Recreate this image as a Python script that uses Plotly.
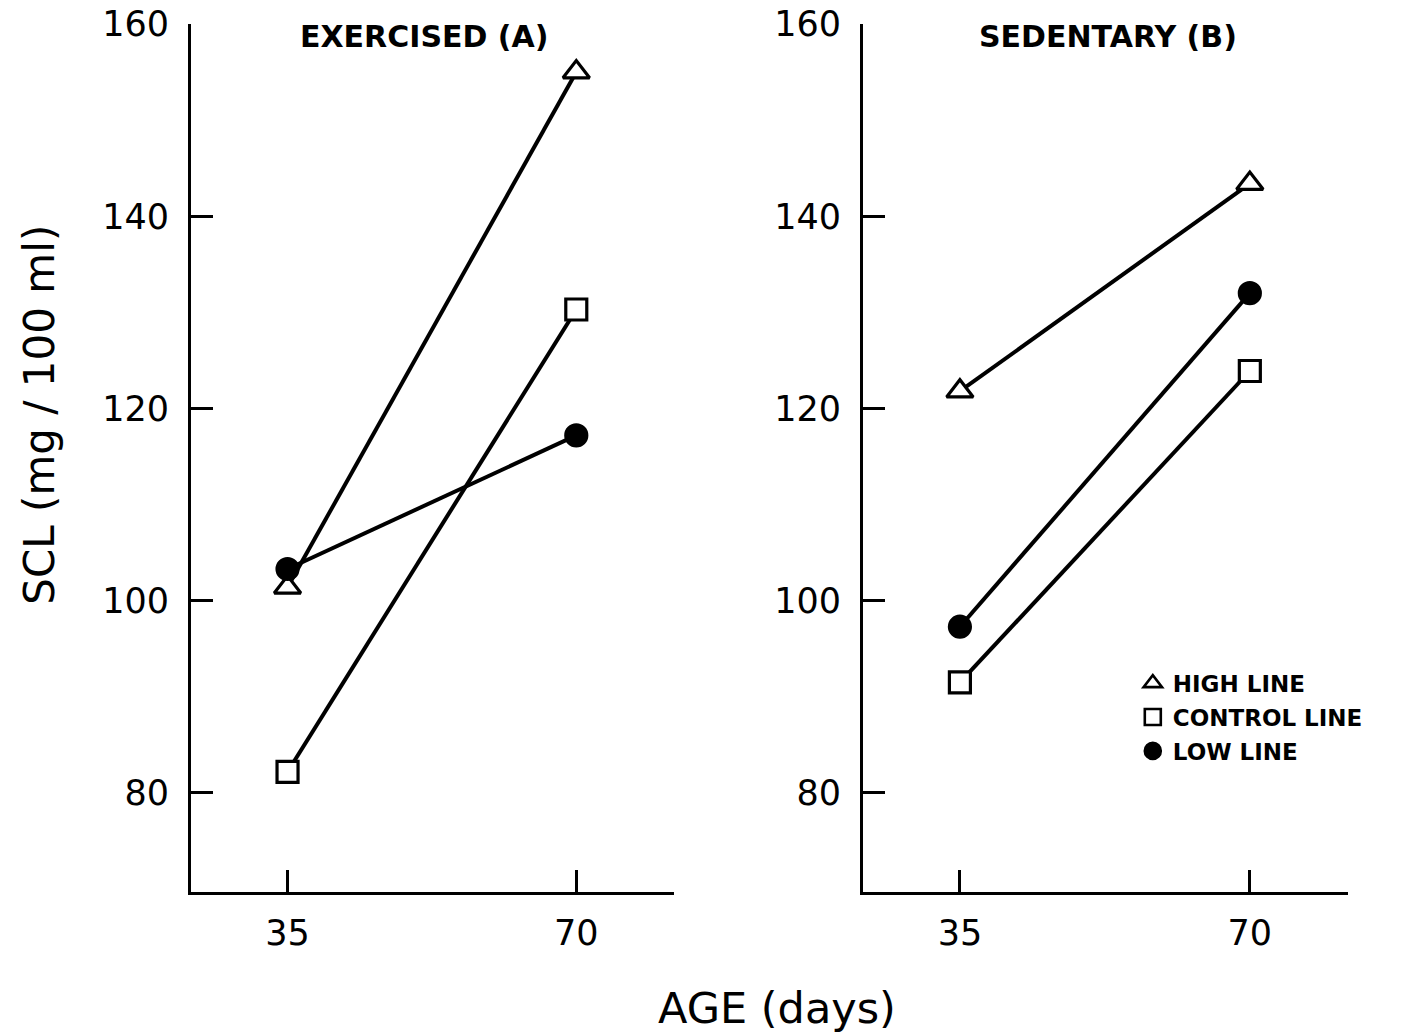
import plotly.graph_objects as go
from plotly.subplots import make_subplots

ages = [35, 70]
# Exercised (A)
ex_high = [101.4, 155.0]
ex_control = [82.2, 130.3]
ex_low = [103.3, 117.2]
# Sedentary (B)
sed_high = [121.8, 143.4]
sed_control = [91.5, 123.9]
sed_low = [97.3, 132.0]

panel_titles = ["EXERCISED (A)", "SEDENTARY (B)"]
series_names = ["HIGH LINE", "CONTROL LINE", "LOW LINE"]
y_ticks = [80, 100, 120, 140, 160]
x_ticks = [35, 70]

FONT = "DejaVu Sans"

fig = make_subplots(rows=1, cols=2, horizontal_spacing=0.163)

styles = {
    "HIGH LINE": dict(symbol="triangle-up", color="white", size=23),
    "CONTROL LINE": dict(symbol="square", color="white", size=21),
    "LOW LINE": dict(symbol="circle", color="black", size=21),
}


def add_panel(col, high, control, low):
    for name, vals in [("CONTROL LINE", control), ("HIGH LINE", high), ("LOW LINE", low)]:
        st = styles[name]
        fig.add_trace(
            go.Scatter(
                x=ages, y=vals, mode="lines+markers", showlegend=False,
                line=dict(color="black", width=4),
                marker=dict(symbol=st["symbol"], size=st["size"], color=st["color"],
                            line=dict(color="black", width=3.2)),
            ),
            row=1, col=col,
        )


add_panel(1, ex_high, ex_control, ex_low)
add_panel(2, sed_high, sed_control, sed_low)

# legend entries
for i, name in enumerate(series_names):
    st = styles[name]
    fig.add_trace(
        go.Scatter(
            x=[None], y=[None], mode="markers", name=name, legendgroup=name,
            marker=dict(symbol=st["symbol"], size=17, color=st["color"],
                        line=dict(color="black", width=2.6)),
        ),
        row=1, col=2,
    )

axis_common = dict(
    showline=True, linecolor="black", linewidth=3, mirror=False,
    ticks="inside", ticklen=22, tickwidth=3, tickcolor="black",
    showgrid=False, zeroline=False, automargin=False,
    tickfont=dict(family=FONT, size=35, color="black"),
)

for c in (1, 2):
    fig.update_xaxes(range=[23.3, 81.85], tickvals=x_ticks, ticklabelstandoff=8,
                     row=1, col=c, **axis_common)
    fig.update_yaxes(range=[69.7, 160], tickvals=y_ticks, ticklabelstandoff=12,
                     row=1, col=c, **axis_common)

fig.update_layout(
    xaxis=dict(domain=[0, 0.4175]),
    xaxis2=dict(domain=[0.5808, 1.0]),
)

title_font = dict(family=FONT, size=30, color="black", weight="bold")
annotations = [
    dict(text=panel_titles[0], x=0.2014, y=0.986, xref="paper", yref="paper",
         xanchor="center", yanchor="middle", showarrow=False, font=title_font),
    dict(text=panel_titles[1], x=0.7926, y=0.986, xref="paper", yref="paper",
         xanchor="center", yanchor="middle", showarrow=False, font=title_font),
    dict(text="SCL (mg / 100 ml)", x=-0.1305, y=0.5499, xref="paper", yref="paper",
         xanchor="center", yanchor="middle",
         textangle=-90, showarrow=False, font=dict(family=FONT, size=42, color="black")),
    dict(text="AGE (days)", x=0.5065, y=-0.1336, xref="paper", yref="paper",
         xanchor="center", yanchor="middle",
         showarrow=False, font=dict(family=FONT, size=43, color="black")),
]

fig.update_layout(
    width=1401, height=1036,
    margin=dict(l=191, r=53, t=24, b=144),
    paper_bgcolor="white", plot_bgcolor="white",
    annotations=annotations,
    showlegend=True,
    legend=dict(
        x=0.814, y=0.2654, xanchor="left", yanchor="top",
        font=dict(family=FONT, size=23, color="black", weight="bold"),
        bgcolor="rgba(0,0,0,0)", borderwidth=0,
        traceorder="grouped", tracegroupgap=1, itemwidth=30,
    ),
)

fig.write_html("out.html")
